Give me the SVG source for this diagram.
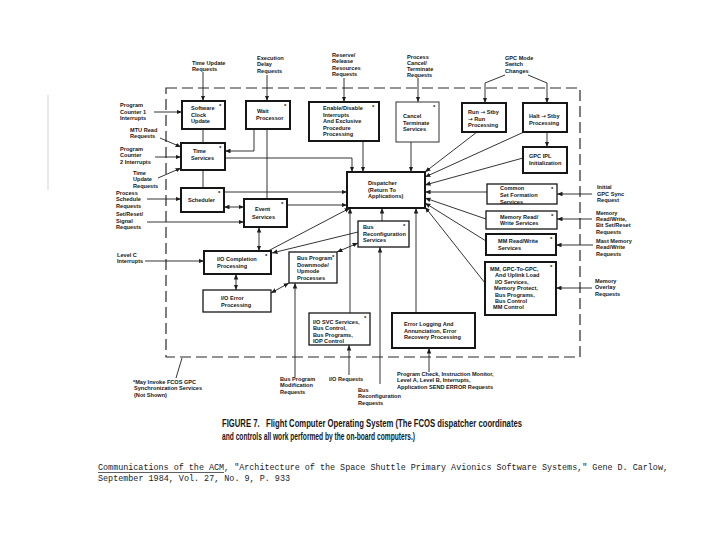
<svg xmlns="http://www.w3.org/2000/svg" width="720" height="540" viewBox="0 0 720 540">
<style>
.bg{fill:#fff}
.box{fill:#fff;stroke:#161616;stroke-width:1.3}
.thk{stroke-width:2}
.thn{stroke:#333;stroke-width:1}
.t{font-family:"Liberation Sans",Arial,Helvetica,sans-serif;font-weight:bold;font-size:5.6px;fill:#161616}
.arr{font-family:"DejaVu Sans",sans-serif;font-weight:bold}
.ast{font-family:"Liberation Sans",Arial,sans-serif;font-weight:bold;font-size:6px;fill:#161616}
.c{stroke:#1e1e1e;stroke-width:0.9;fill:none}
.a{marker-end:url(#ah)}
.d{marker-start:url(#ah);marker-end:url(#ah)}
.border{fill:none;stroke:#2a2a2a;stroke-width:1.2;stroke-dasharray:11 5}
.cap{font-family:"Liberation Sans",Arial,sans-serif;font-weight:bold;font-size:10px;fill:#161616}
.cite{font-family:"Liberation Mono","Courier New",monospace;font-size:8.8px;fill:#1a1a1a}
</style>
<defs>
<marker id="ah" markerUnits="userSpaceOnUse" markerWidth="6" markerHeight="5" refX="5.5" refY="2.25" orient="auto-start-reverse">
<path d="M0,0 L5.5,2.25 L0,4.5 z" fill="#1e1e1e"/>
</marker>
</defs>
<rect class="bg" x="0" y="0" width="720" height="540"/>
<line x1="48" y1="95" x2="48" y2="190" stroke="#c8c8c8" stroke-width="0.8"/>

<!-- dashed system border -->
<rect id="fcos-border" class="border" x="166" y="88" width="414" height="269"/>

<!-- connectors -->
<g id="connectors">
<path class="c a" d="M203,72 V101"/>
<path class="c a" d="M267,75 V101"/>
<path class="c" d="M267,129 V199"/>
<path class="c a" d="M254,129 V151 H225"/>
<path class="c a" d="M154,112 H182"/>
<path class="c" d="M203,129 V143"/>
<path class="c a" d="M160,138 L181,147"/>
<path class="c a" d="M155,157 H181"/>
<path class="c a" d="M158,178 L181,168"/>
<path class="c a" d="M225,158 H352 V172"/>
<path class="c" d="M203,170 V188"/>
<path class="c a" d="M147,199 H181"/>
<path class="c a" d="M224,192 H347"/>
<path class="c d" d="M224,207 H244"/>
<path class="c a" d="M147,222 H244"/>
<path class="c a" d="M287,205 H347"/>
<path class="c d" d="M259,227 V251"/>
<path class="c a" d="M268,251 L350,208"/>
<path class="c a" d="M358,232 L272,253"/>
<path class="c d" d="M358,243 L337,252"/>
<path class="c a" d="M145,261 H204"/>
<path class="c d" d="M236,274 V290"/>
<path class="c d" d="M271,293 L289,283"/>
<path class="c a" d="M295,377 V283"/>
<path class="c a" d="M350,313 V208"/>
<path class="c a" d="M382,221 V208"/>
<path class="c a" d="M380,384 V247"/>
<path class="c a" d="M349,375 V345"/>
<path class="c a" d="M416,313 V208"/>
<path class="c a" d="M429,372 V348"/>
<path class="c a" d="M344,78 V102"/>
<path class="c a" d="M363,141 V172"/>
<path class="c a" d="M418,78 V102"/>
<path class="c a" d="M411,142 V172"/>
<path class="c a" d="M505,75 L485,83 V103"/>
<path class="c a" d="M528,75 L547,83 V103"/>
<path class="c a" d="M547,132 V147"/>
<path class="c a" d="M477,132 L425,172"/>
<path class="c a" d="M524,132 L425,177"/>
<path class="c a" d="M523,158 L425,185"/>
<path class="c a" d="M487,192 H425"/>
<path class="c a" d="M592,194 H557"/>
<path class="c a" d="M486,219 L425,198"/>
<path class="c a" d="M592,219 H557"/>
<path class="c a" d="M486,241 L425,203"/>
<path class="c a" d="M593,245 H556"/>
<path class="c a" d="M485,283 L425,207"/>
<path class="c a" d="M592,288 H556"/>
<path class="c" d="M182,358 L176,378"/>
</g>

<!-- nodes -->
<g id="software-clock">
<rect class="box thk" x="182" y="101" width="43" height="28"/>
<text class="t" x="191" y="110">Software<tspan x="191" dy="6.5">Clock</tspan><tspan x="191" dy="6.5">Update</tspan></text>
<text class="ast" x="219" y="108">*</text>
</g>
<g id="wait-processor">
<rect class="box thk" x="246" y="101" width="44" height="28"/>
<text class="t" x="257" y="113">Wait<tspan x="256" dy="6.5">Processor</tspan></text>
<text class="ast" x="284" y="108">*</text>
</g>
<g id="time-services">
<rect class="box thk" x="181" y="143" width="44" height="27"/>
<text class="t" x="193" y="153">Time<tspan x="191" dy="6.8">Services</tspan></text>
<text class="ast" x="219" y="150">*</text>
</g>
<g id="scheduler">
<rect class="box thk" x="181" y="188" width="43" height="24"/>
<text class="t" x="188" y="202">Scheduler</text>
<text class="ast" x="218" y="195">*</text>
</g>
<g id="event-services">
<rect class="box thk" x="244" y="199" width="43" height="28"/>
<text class="t" x="255" y="211">Event<tspan x="252" dy="7.5">Services</tspan></text>
<text class="ast" x="281" y="206">*</text>
</g>
<g id="io-completion">
<rect class="box thk" x="204" y="251" width="67" height="23"/>
<text class="t" x="217" y="261">I/O Completion<tspan x="217" dy="7">Processing</tspan></text>
<text class="ast" x="265" y="258">*</text>
</g>
<g id="io-error">
<rect class="box" x="203" y="290" width="68" height="22"/>
<text class="t" x="221" y="300">I/O Error<tspan x="221" dy="7">Processing</tspan></text>
</g>
<g id="bus-program">
<rect class="box" x="289" y="252" width="48" height="31"/>
<text class="t" x="297" y="260">Bus Program<tspan x="297" dy="6.5">Downmode/</tspan><tspan x="297" dy="6.5">Upmode</tspan><tspan x="297" dy="6.5">Processes</tspan></text>
<text class="ast" x="332" y="259">*</text>
</g>
<g id="bus-reconfiguration">
<rect class="box" x="358" y="221" width="51" height="26"/>
<text class="t" x="363" y="229">Bus<tspan x="363" dy="6.5">Reconfiguration</tspan><tspan x="363" dy="6.5">Services</tspan></text>
<text class="ast" x="403" y="228">*</text>
</g>
<g id="dispatcher">
<rect class="box thk" x="347" y="172" width="78" height="36"/>
<text class="t" x="368" y="185">Dispatcher<tspan x="368" dy="6.5">(Return To</tspan><tspan x="368" dy="6.5">Applications)</tspan></text>
</g>
<g id="enable-disable">
<rect class="box thk" x="309" y="102" width="70" height="39"/>
<text class="t" x="323" y="110">Enable/Disable<tspan x="323" dy="6.5">Interrupts</tspan><tspan x="323" dy="6.5">And Exclusive</tspan><tspan x="323" dy="6.5">Procedure</tspan><tspan x="323" dy="6.5">Processing</tspan></text>
<text class="ast" x="372" y="109">*</text>
</g>
<g id="cancel-terminate">
<rect class="box thn" x="396" y="102" width="43" height="40"/>
<text class="t" x="403" y="118">Cancel<tspan x="403" dy="6.5">Terminate</tspan><tspan x="403" dy="6.5">Services</tspan></text>
<text class="ast" x="433" y="109">*</text>
</g>
<g id="run-stby-run">
<rect class="box thk" x="462" y="103" width="44" height="29"/>
<text class="t" x="468" y="114">Run <tspan class="arr">→</tspan> Stby<tspan x="468" dy="6.5"><tspan class="arr">→</tspan> Run</tspan><tspan x="468" dy="6.5">Processing</tspan></text>
</g>
<g id="halt-stby">
<rect class="box thk" x="523" y="103" width="44" height="29"/>
<text class="t" x="529" y="118">Halt <tspan class="arr">→</tspan> Stby<tspan x="529" dy="6.5">Processing</tspan></text>
</g>
<g id="gpc-ipl">
<rect class="box thk" x="523" y="147" width="44" height="26"/>
<text class="t" x="529" y="158">GPC IPL<tspan x="529" dy="7">Initialization</tspan></text>
</g>
<g id="common-set-formation">
<rect class="box" x="487" y="184" width="70" height="20"/>
<text class="t" x="500" y="190">Common<tspan x="500" dy="6.8">Set Formation</tspan><tspan x="500" dy="6.8">Services</tspan></text>
<text class="ast" x="551" y="191">*</text>
</g>
<g id="memory-read-write">
<rect class="box" x="486" y="211" width="71" height="18"/>
<text class="t" x="500" y="218.5">Memory Read/<tspan x="500" dy="6.5">Write Services</tspan></text>
<text class="ast" x="551" y="218">*</text>
</g>
<g id="mm-read-write">
<rect class="box thk" x="486" y="234" width="70" height="21"/>
<text class="t" x="498" y="243">MM Read/Write<tspan x="498" dy="6.5">Services</tspan></text>
<text class="ast" x="550" y="241">*</text>
</g>
<g id="mm-gpc-to-gpc">
<rect class="box thk" x="485" y="262" width="71" height="53"/>
<text class="t" x="490" y="271">MM, GPC-To-GPC,<tspan x="495" dy="6.4">And Uplink Load</tspan><tspan x="495" dy="6.4">I/O Services,</tspan><tspan x="494" dy="6.4">Memory Protect,</tspan><tspan x="495" dy="6.4">Bus Programs,</tspan><tspan x="495" dy="6.4">Bus Control</tspan><tspan x="493" dy="6.4">MM Control</tspan></text>
<text class="ast" x="550" y="269">*</text>
</g>
<g id="error-logging">
<rect class="box thk" x="392" y="313" width="83" height="35"/>
<text class="t" x="404" y="326">Error Logging And<tspan x="404" dy="6.5">Annunciation, Error</tspan><tspan x="404" dy="6.5">Recovery Processing</tspan></text>
</g>
<g id="io-svc">
<rect class="box" x="309" y="313" width="61" height="32"/>
<text class="t" x="313" y="324">I/O SVC Services,<tspan x="313" dy="6.4">Bus Control,</tspan><tspan x="313" dy="6.4">Bus Programs,</tspan><tspan x="313" dy="6.4">IOP Control</tspan></text>
<text class="ast" x="364" y="320">*</text>
</g>

<!-- external request labels -->
<g id="labels">
<text class="t" x="192" y="65">Time Update<tspan x="192" dy="6.3">Requests</tspan></text>
<text class="t" x="257" y="60">Execution<tspan x="257" dy="6.3">Delay</tspan><tspan x="257" dy="6.3">Requests</tspan></text>
<text class="t" x="332" y="57">Reserve/<tspan x="332" dy="6.3">Release</tspan><tspan x="332" dy="6.3">Resources</tspan><tspan x="332" dy="6.3">Requests</tspan></text>
<text class="t" x="407" y="58.5">Process<tspan x="407" dy="6.1">Cancel/</tspan><tspan x="407" dy="6.1">Terminate</tspan><tspan x="407" dy="6.1">Requests</tspan></text>
<text class="t" x="505" y="60">GPC Mode<tspan x="505" dy="6.4">Switch</tspan><tspan x="505" dy="6.4">Changes</tspan></text>
<text class="t" x="120" y="107">Program<tspan x="120" dy="6.5">Counter 1</tspan><tspan x="120" dy="6.5">Interrupts</tspan></text>
<text class="t" x="130" y="132">MTU Read<tspan x="130" dy="6.2">Requests</tspan></text>
<text class="t" x="120" y="151">Program<tspan x="120" dy="6.4">Counter</tspan><tspan x="120" dy="6.4">2 Interrupts</tspan></text>
<text class="t" x="133" y="175">Time<tspan x="133" dy="6.4">Update</tspan><tspan x="133" dy="6.4">Requests</tspan></text>
<text class="t" x="116" y="195">Process<tspan x="116" dy="6.4">Schedule</tspan><tspan x="116" dy="6.4">Requests</tspan></text>
<text class="t" x="116" y="216">Set/Reset/<tspan x="116" dy="6.5">Signal</tspan><tspan x="116" dy="6.5">Requests</tspan></text>
<text class="t" x="117" y="257">Level C<tspan x="117" dy="6.3">Interrupts</tspan></text>
<text class="t" x="597" y="189">Initial<tspan x="597" dy="6.5">GPC Sync</tspan><tspan x="597" dy="6.5">Request</tspan></text>
<text class="t" x="596" y="215">Memory<tspan x="596" dy="6.2">Read/Write,</tspan><tspan x="596" dy="6.2">Bit Set/Reset</tspan><tspan x="596" dy="6.2">Requests</tspan></text>
<text class="t" x="596" y="243">Mast Memory<tspan x="596" dy="6.3">Read/Write</tspan><tspan x="596" dy="6.3">Requests</tspan></text>
<text class="t" x="595" y="283">Memory<tspan x="595" dy="6.3">Overlay</tspan><tspan x="595" dy="6.3">Requests</tspan></text>
<text class="t" x="133" y="384">*May Invoke FCOS GPC<tspan x="134" dy="6.4">Synchronization Services</tspan><tspan x="134" dy="6.4">(Not Shown)</tspan></text>
<text class="t" x="280" y="381">Bus Program<tspan x="280" dy="6.4">Modification</tspan><tspan x="280" dy="6.4">Requests</tspan></text>
<text class="t" x="329" y="381">I/O Requests</text>
<text class="t" x="358" y="392">Bus<tspan x="358" dy="6.4">Reconfiguration</tspan><tspan x="358" dy="6.4">Requests</tspan></text>
<text class="t" x="397" y="376">Program Check, Instruction Monitor,<tspan x="397" dy="6.4">Level A, Level B, Interrupts,</tspan><tspan x="397" dy="6.4">Application SEND ERROR Requests</tspan></text>
</g>

<!-- caption -->
<g id="caption">
<text class="cap" x="222" y="427" textLength="300" lengthAdjust="spacingAndGlyphs">FIGURE 7.&#160;&#160; Flight Computer Operating System (The FCOS dispatcher coordinates</text>
<text class="cap" x="222" y="440" textLength="193" lengthAdjust="spacingAndGlyphs">and controls all work performed by the on-board computers.)</text>
</g>
<g id="citation">
<text class="cite" x="98" y="470" textLength="570" lengthAdjust="spacingAndGlyphs">Communications of the ACM, "Architecture of the Space Shuttle Primary Avionics Software Systems," Gene D. Carlow,</text>
<line x1="98" y1="472.5" x2="224" y2="472.5" stroke="#1a1a1a" stroke-width="0.7"/>
<text class="cite" x="98" y="481" textLength="192" lengthAdjust="spacingAndGlyphs">September 1984, Vol. 27, No. 9, P. 933</text>
</g>
</svg>
